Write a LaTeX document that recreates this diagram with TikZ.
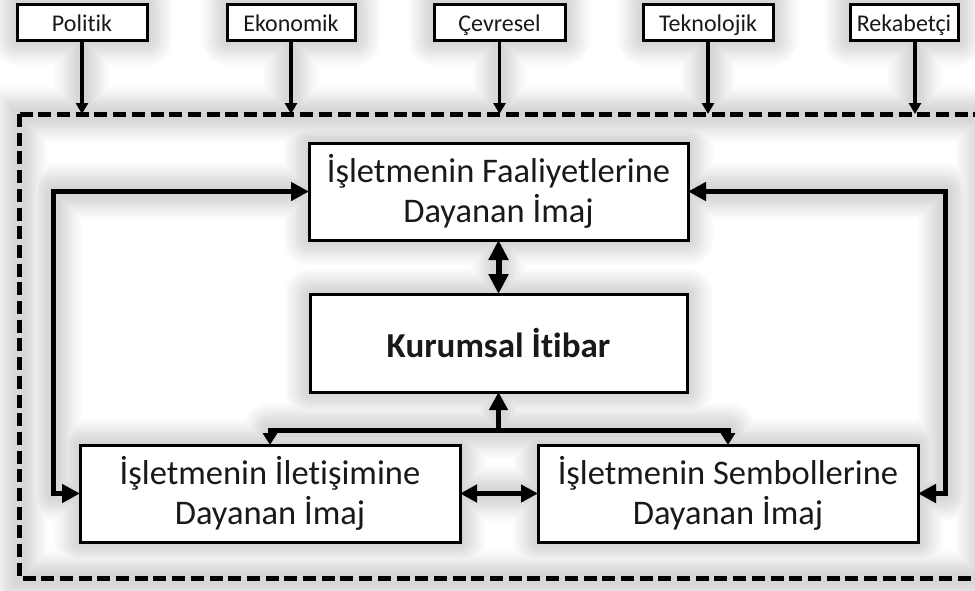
\documentclass[tikz,border=0pt]{standalone}
\usepackage{fontspec}
\setmainfont[Ligatures=NoCommon]{Carlito}
\usetikzlibrary{arrows.meta}
\pgfdeclarelayer{glow}
\pgfsetlayers{glow,main}

\tikzset{
  x=1pt, y=-1pt,
  bigtip/.tip={Triangle[length=18pt,width=18pt]},
  wedge/.tip={Triangle[length=12pt,width=14pt]},
  factor/.style={draw=black, line width=3pt, fill=white, minimum height=36pt,
    inner sep=0pt, outer sep=0pt, text height=19pt, text depth=1pt,
    text=black!90, font=\fontsize{24}{28}\selectfont},
  imagebox/.style={draw=black, line width=3pt, fill=white, minimum width=379pt,
    minimum height=97pt, inner sep=0pt, outer sep=0pt, align=center,
    text=black!90, font=\fontsize{34.5}{39.5}\selectfont},
  link/.style={line width=5pt, draw=black},
  feed/.style={line width=3.5pt, draw=black, -{Triangle[length=11pt,width=12pt]}},
  frame/.style={line width=5pt, draw=black, dash pattern=on 13pt off 5.7pt},
}

% one pass of the soft halo around every element
\newcommand\glowpass[2]{%
  \foreach \n in {pol,eko,cev,tek,rek,fa,ku,il,se}
    \draw[line width=#1, draw=#2, fill=#2, line join=round]
      (\n.south west) rectangle (\n.north east);
  \draw[line width=5pt+#1, draw=#2, line join=round, line cap=round]
    (fa.west) -- (lt) -- (lb) -- (il.west);
  \draw[line width=5pt+#1, draw=#2, line join=round, line cap=round]
    (fa.east) -- (rt) -- (rb) -- (se.east);
  \draw[line width=5pt+#1, draw=#2, line join=round, line cap=round]
    (il.north) -- (bl) -- (br) -- (se.north);
  \draw[line width=5pt+#1, draw=#2, line cap=round] (bm) -- (ku.south);
  \draw[line width=5pt+#1, draw=#2, line cap=round] (fa.south) -- (ku.north);
  \draw[line width=5pt+#1, draw=#2, line cap=round] (il.east) -- (se.west);
  \foreach \n in {pol,eko,cev,tek}
    \draw[line width=3.5pt+#1, draw=#2, line cap=round] (\n.south) -- (\n.south |- f1);
  \draw[line width=3.5pt+#1, draw=#2, line cap=round] (rekout) -- (rekout |- f1);
  \draw[line width=5pt+#1, draw=#2] (f1) rectangle (f2);
}

\begin{document}
\begin{tikzpicture}
\useasboundingbox (0,0) rectangle (975,590);

% external factors
\node[factor, minimum width=130pt] (pol) at (82,22)    {Politik};
\node[factor, minimum width=128pt] (eko) at (291,22)   {Ekonomik};
\node[factor, minimum width=131pt] (cev) at (499.5,22) {Çevresel};
\node[factor, minimum width=130pt] (tek) at (708,22)   {Teknolojik};
\node[factor, minimum width=108pt] (rek) at (904,22)   {Rekabetçi};
\coordinate (rekout) at (915,40);

% image components and reputation
\node[imagebox] (fa) at (498.5,191.5) {İşletmenin Faaliyetlerine\\Dayanan İmaj};
\node[imagebox, minimum width=377pt, minimum height=98pt, font=\fontsize{35}{40}\selectfont\bfseries]
  (ku) at (498.5,343) {Kurumsal İtibar};
\node[imagebox, minimum width=380pt] (il) at (270,493.5) {İşletmenin İletişimine\\Dayanan İmaj};
\node[imagebox, minimum width=380pt] (se) at (728,493.5) {İşletmenin Sembollerine\\Dayanan İmaj};

% frame corners and connector bends
\coordinate (f1) at (19,114);
\coordinate (f2) at (983,578);
\coordinate (lt) at (53,191.5);
\coordinate (lb) at (53,493.5);
\coordinate (rt) at (945,191.5);
\coordinate (rb) at (945,493.5);
\coordinate (bl) at (270,430);
\coordinate (br) at (728,430);
\coordinate (bm) at (498.5,430);

% halo
\begin{pgfonlayer}{glow}
  \fill[white] (0,0) rectangle (975,590);
  \glowpass{50pt}{black!2}
  \glowpass{44pt}{black!4}
  \glowpass{38pt}{black!6}
  \glowpass{32pt}{black!8}
  \glowpass{26pt}{black!10}
  \glowpass{20pt}{black!12}
  \glowpass{14pt}{black!14}
  \glowpass{8pt}{black!15.5}
\end{pgfonlayer}

% environment frame
\draw[frame] (f1) rectangle (f2);

% factors acting on the frame
\foreach \n in {pol,eko,cev,tek}
  \draw[feed] (\n.south) -- (\n.south |- f1);
\draw[feed] (rekout) -- (rekout |- f1);

% connectors
\draw[link, line join=miter, bigtip-bigtip] (fa.west) -- (lt) -- (lb) -- (il.west);
\draw[link, line join=miter, bigtip-bigtip] (fa.east) -- (rt) -- (rb) -- (se.east);
\draw[link, line width=6pt, {Triangle[length=20pt,width=19pt]}-{Triangle[length=20pt,width=19pt]}]
  (fa.south) -- (ku.north);
\draw[link, {Triangle[length=17pt,width=17pt]}-{Triangle[length=17pt,width=17pt]}]
  (il.east) -- (se.west);
\draw[link, line join=miter, wedge-wedge] (il.north) -- (bl) -- (br) -- (se.north);
\draw[link, -bigtip] (bm) -- (ku.south);
\end{tikzpicture}
\end{document}
